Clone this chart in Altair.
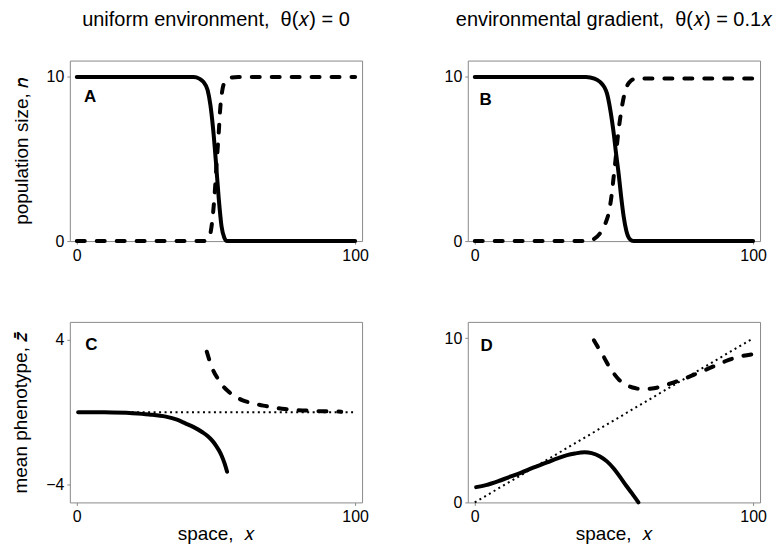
import altair as alt
import pandas as pd

FONT = "Liberation Sans"
NB = "\u00a0"

# ---------------- data ----------------
# Panel A (uniform environment, population size)
a_solid_x = [0, 42, 44, 45.5, 47, 48, 49, 50, 51, 52, 53, 54, 100]
a_solid_y = [10, 10, 9.9, 9.7, 9.2, 8.3, 6.8, 4.8, 2.6, 0.9, 0.2, 0, 0]
a_dash_x = [0, 46, 47.5, 48.5, 49.5, 50.3, 51, 51.5, 52.2, 53.2, 55, 58, 100]
a_dash_y = [0, 0, 0.2, 1.0, 2.8, 4.9, 6.6, 8.0, 9.1, 9.7, 9.95, 10, 10]

# Panel B (environmental gradient, population size)
b_solid_x = [0, 40, 43, 45, 46.5, 47.5, 48.7, 49.9, 50.8, 51.7, 52.6, 53.5, 54.5, 55.8, 57, 100]
b_solid_y = [10, 10, 9.9, 9.7, 9.4, 9.0, 8.0, 6.6, 5.3, 4.1, 2.7, 1.5, 0.6, 0.1, 0, 0]
b_dash_x = [0, 40, 42.5, 45.1, 47, 48.1, 49.1, 49.9, 50.6, 51.3, 52.1, 52.9, 53.7, 54.6, 56, 58, 100]
b_dash_y = [0, 0, 0.1, 0.5, 1.1, 1.7, 2.7, 3.9, 5.0, 6.2, 7.3, 8.2, 8.9, 9.4, 9.75, 9.9, 9.9]

# Panel C (uniform environment, mean phenotype)
c_solid_x = [0.5, 10, 20, 26, 32, 36, 39, 42, 45, 47, 48.5, 50, 51, 52, 53, 54]
c_solid_y = [0, -0.01, -0.06, -0.13, -0.25, -0.42, -0.62, -0.83, -1.1, -1.32, -1.55, -1.85, -2.1, -2.4, -2.8, -3.3]
c_dash_x = [46.7, 48.5, 50.9, 52.5, 54.5, 56.8, 59.2, 62, 64, 67, 70, 74.8, 78, 82, 88, 94, 95]
c_dash_y = [3.35, 2.5, 1.8, 1.45, 1.14, 0.88, 0.68, 0.54, 0.46, 0.36, 0.28, 0.17, 0.12, 0.09, 0.05, 0.03, 0.02]
c_dot_x = [0, 100]
c_dot_y = [0, 0]

# Panel D (environmental gradient, mean phenotype)
d_solid_x = [0.5, 4, 9.4, 13, 16.5, 21, 26, 30, 33.2, 36, 39.5, 42, 45, 47.5, 50, 52, 54.5, 56.5, 58.8]
d_solid_y = [0.93, 1.05, 1.35, 1.58, 1.8, 2.12, 2.44, 2.7, 2.88, 2.98, 3.05, 3.0, 2.8, 2.5, 2.05, 1.6, 1.0, 0.55, 0]
d_dash_x = [42.8, 44.3, 45.7, 47.2, 48.7, 50.2, 51.7, 53.7, 55.8, 58, 60.6, 63, 65.4, 68, 71.3, 75, 78.5, 82.5, 86.8, 90, 92.7, 96, 99.9]
d_dash_y = [9.88, 9.45, 9.07, 8.6, 8.16, 7.8, 7.5, 7.25, 7.05, 6.95, 6.9, 6.93, 6.99, 7.12, 7.3, 7.52, 7.76, 8.05, 8.36, 8.6, 8.77, 8.92, 9.03]
d_dot_x = [0, 100]
d_dot_y = [0, 10]

# axis settings
x_domain = [-2.5, 102.5]
x_ticks = [0, 100]
n_domain = [0, 11]
n_ticks = [0, 10]
c_domain = [-5, 5]
c_ticks = [-4, 4]
d_domain = [0, 11]
d_ticks = [0, 10]

panel_labels = ["A", "B", "C", "D"]
label_x = [4.8, 3.9, 5.2, 4.3]
label_y = [8.75, 8.6, 3.7, 9.5]

col_titles = ["uniform environment," + NB + " θ(𝑥) = 0", "environmental gradient," + NB + " θ(𝑥) = 0.1𝑥"]
y_titles = ["population size, 𝑛", "mean phenotype, 𝑧̄"]
x_title = "space," + NB + " 𝑥"

W, H = 293, 181

STYLES = {
    "solid": dict(strokeWidth=4, strokeCap="round"),
    "dash": dict(strokeWidth=4, strokeCap="round", strokeDash=[8, 12]),
    "dot": dict(strokeWidth=2, strokeDash=[2, 3.5]),
}


def panel(series, ydomain, yticks, idx, ytitle=None, xtitle=None, title=None):
    xenc_kwargs = dict(
        scale=alt.Scale(domain=x_domain, nice=False, zero=False),
        axis=alt.Axis(values=x_ticks, labelFlush=False, titlePadding=0),
    )
    yenc_kwargs = dict(
        scale=alt.Scale(domain=ydomain, nice=False, zero=False),
        axis=alt.Axis(values=yticks, labelFlush=False, titlePadding=15),
    )
    layers = []
    for xs, ys, style in series:
        df = pd.DataFrame({"x": xs, "y": ys})
        layers.append(
            alt.Chart(df)
            .mark_line(color="black", interpolate="monotone", **STYLES[style])
            .encode(
                x=alt.X("x:Q", title=xtitle, **xenc_kwargs),
                y=alt.Y("y:Q", title=ytitle, **yenc_kwargs),
            )
        )
    lab = pd.DataFrame({"x": [label_x[idx]], "y": [label_y[idx]], "t": [panel_labels[idx]]})
    layers.append(
        alt.Chart(lab)
        .mark_text(font=FONT, fontSize=17, fontWeight="bold", color="black", align="center", baseline="middle")
        .encode(
            x=alt.X("x:Q", title=xtitle, **xenc_kwargs),
            y=alt.Y("y:Q", title=ytitle, **yenc_kwargs),
            text="t:N",
        )
    )
    ch = alt.layer(*layers).properties(width=W, height=H)
    if title is not None:
        ch = ch.properties(
            title=alt.TitleParams(
                text=title, font=FONT, fontSize=20, fontWeight="normal", color="black",
                anchor="middle", offset=31,
            )
        )
    return ch


A = panel([(a_solid_x, a_solid_y, "solid"), (a_dash_x, a_dash_y, "dash")],
          n_domain, n_ticks, 0, ytitle=y_titles[0], title=col_titles[0])
B = panel([(b_solid_x, b_solid_y, "solid"), (b_dash_x, b_dash_y, "dash")],
          n_domain, n_ticks, 1, title=col_titles[1])
C = panel([(c_dot_x, c_dot_y, "dot"), (c_solid_x, c_solid_y, "solid"), (c_dash_x, c_dash_y, "dash")],
          c_domain, c_ticks, 2, ytitle=y_titles[1], xtitle=x_title)
D = panel([(d_dot_x, d_dot_y, "dot"), (d_solid_x, d_solid_y, "solid"), (d_dash_x, d_dash_y, "dash")],
          d_domain, d_ticks, 3, xtitle=x_title)

chart = (
    alt.concat(A, B, C, D, columns=2, spacing={"row": 81, "column": 106}, bounds="flush")
    .properties(padding={"left": 3, "top": 0, "right": 0, "bottom": 0})
    .configure_view(stroke="#8a8a8a", strokeWidth=1)
    .configure_axis(
        labelFont=FONT, labelFontSize=16, labelColor="black",
        titleFont=FONT, titleFontSize=19, titleFontWeight="normal", titleColor="black",
        domain=False, grid=False, tickColor="#8a8a8a", tickSize=3, labelPadding=3,
    )
)

chart.save("out.html", embed_options={"renderer": "svg", "actions": False})
